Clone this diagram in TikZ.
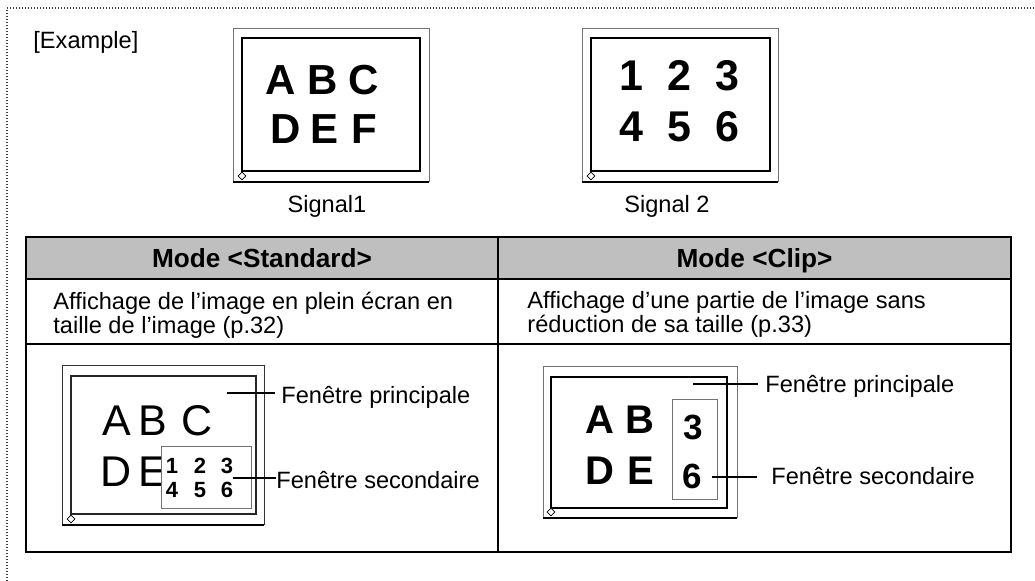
\documentclass[tikz,border=0pt]{standalone}
\usepackage{fontspec}
\setmainfont{Liberation Sans}
\usetikzlibrary{positioning,shapes.geometric}
\tikzset{%
	dotframe/.style = {draw=black!75, line width=0.6pt, dash pattern=on 0.5pt off 1pt},
	grid/.style     = {draw, line width=1pt},
	casing/.style   = {draw=black!55, line width=0.5pt},
	base/.style     = {draw, line width=1pt},
	screen/.style   = {draw, line width=1pt},
	subwin/.style   = {draw=black!55, fill=white, line width=0.5pt},
	knob/.style     = {draw, diamond, fill=white, inner sep=0pt, minimum size=4pt, line width=0.4pt},
	txt/.style      = {inner sep=0pt, font=\fontsize{11.8}{12}\selectfont},
	head/.style     = {inner sep=0pt, font=\bfseries\fontsize{13.1}{14}\selectfont},
	glyph/.style    = {inner sep=0pt, font=\bfseries\fontsize{#1}{#1}\selectfont},
	thin/.style     = {inner sep=0pt, font=\fontsize{#1}{#1}\selectfont},
	lead/.style     = {draw, line width=0.7pt},
}
\begin{document}
\begin{tikzpicture}[x=0.5pt, y=-0.5pt]
	\useasboundingbox (0,0) rectangle (1035,581);
	\draw[dotframe] (7,581) -- (7,8) -- (1035,8);
	\node[txt, anchor=base west] (ex) at (33,49) {[Example]};

	% Signal1
	\draw[casing] (233,29) rectangle (429,182);
	\draw[base] (233,182) -- (429,182);
	\draw[screen] (242,38) rectangle (420,171);
	\node[knob] (k1) at (242,176) {};
	\foreach \c/\x in {A/281,B/323,C/364} \node[glyph=21, anchor=base] (sa\c) at (\x,95) {\c};
	\foreach \c/\x in {D/286,E/325,F/364} \node[glyph=21, anchor=base] (sa\c) at (\x,144) {\c};
	\node[txt, anchor=base] (sig1) at (327,213) {Signal1};

	% Signal 2
	\draw[casing] (582,29) rectangle (778,182);
	\draw[base] (582,182) -- (778,182);
	\draw[screen] (591,38) rectangle (770,171);
	\node[knob] (k2) at (591,176) {};
	\foreach \c/\x in {1/631,2/679,3/727} \node[glyph=21.5, anchor=base] (sb\c) at (\x,91) {\c};
	\foreach \c/\x in {4/631,5/679,6/727} \node[glyph=21.5, anchor=base] (sb\c) at (\x,142) {\c};
	\node[txt, anchor=base] (sig2) at (667,213) {Signal 2};

	% table
	\fill[black!25] (26,237) rectangle (1011,279);
	\draw[grid] (26,237) rectangle (1011,552);
	\draw[grid] (26,279) -- (1011,279);
	\draw[grid] (26,344) -- (1011,344);
	\draw[grid] (498,237) -- (498,552);
	\node[head, anchor=base] (hstd) at (262,268) {Mode <Standard>};
	\node[head, anchor=base] (hclip) at (754.5,268) {Mode <Clip>};
	\node[txt, anchor=base west] (dstd1) at (53,310) {Affichage de l’image en plein écran en};
	\node[txt, anchor=base west] (dstd2) at (53,334) {taille de l’image (p.32)};
	\node[txt, anchor=base west] (dclip1) at (527,309) {Affichage d’une partie de l’image sans};
	\node[txt, anchor=base west] (dclip2) at (527,333) {réduction de sa taille (p.33)};

	% Standard
	\draw[casing, draw=black!80] (62,366) rectangle (264,525);
	\draw[base] (62,525) -- (264,525);
	\draw[screen, line width=0.7pt, draw=black!85] (71,376) rectangle (256,514);
	\node[knob] (k3) at (71,519) {};
	\foreach \c/\x in {A/116.5,B/153,C/197.5} \node[thin=21.5, anchor=base] (st\c) at (\x,436) {\c};
	\foreach \c/\x in {D/116.5,E/153} \node[thin=21.5, anchor=base] (st\c) at (\x,487) {\c};
	\draw[subwin] (161,447) rectangle (251,509);
	\foreach \c/\x in {1/172,2/200,3/227} \node[glyph=11, anchor=base] (sd\c) at (\x,474) {\c};
	\foreach \c/\x in {4/172,5/200,6/227} \node[glyph=11, anchor=base] (sd\c) at (\x,498) {\c};
	\coordinate (pm1) at (227,393);
	\coordinate (ps1) at (233,478);
	\node[txt, anchor=base west] (lpm1) at (281,404) {Fenêtre principale};
	\node[txt, anchor=base west] (lps1) at (276,489) {Fenêtre secondaire};
	\draw[lead, shorten >=3pt] (pm1) -- (pm1 -| lpm1.west);
	\draw[lead] (ps1) -- (ps1 -| lps1.west);

	% Clip
	\draw[casing] (543,367) rectangle (737,518);
	\draw[base] (543,518) -- (737,518);
	\draw[screen] (551,377) rectangle (727,508);
	\node[knob] (k4) at (551,512) {};
	\foreach \c/\x in {A/600,B/639.5} \node[glyph=20, anchor=base] (cl\c) at (\x,434) {\c};
	\foreach \c/\x in {D/600,E/641} \node[glyph=20, anchor=base] (cl\c) at (\x,485) {\c};
	\draw[subwin, fill=none] (672,400) rectangle (717,500);
	\node[glyph=17.5, anchor=base] (cl3) at (693,440) {3};
	\node[glyph=17.5, anchor=base] (cl6) at (692,489) {6};
	\coordinate (pm2) at (693,384);
	\coordinate (ps2) at (712,477);
	\node[txt, anchor=base west] (lpm2) at (765,393) {Fenêtre principale};
	\node[txt, anchor=base west] (lps2) at (771,485) {Fenêtre secondaire};
	\draw[lead, shorten >=3.5pt] (pm2) -- (pm2 -| lpm2.west);
	\draw[lead, shorten >=7pt] (ps2) -- (ps2 -| lps2.west);
\end{tikzpicture}
\end{document}
